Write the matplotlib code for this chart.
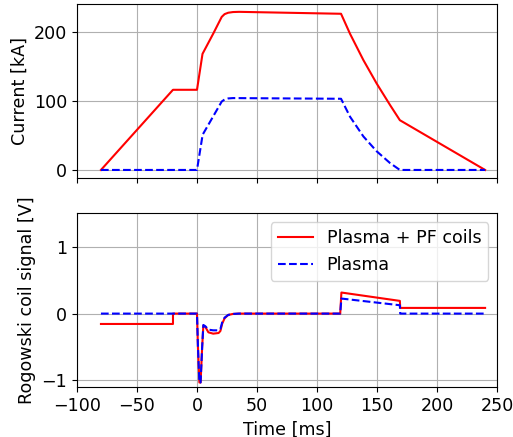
import numpy as np
import matplotlib
matplotlib.use('Agg')
import matplotlib.pyplot as plt

# --- Current traces ---
t_total = [-80, -20, 0, 4.6, 13.6, 20.6, 23, 26, 30, 35, 120, 127.5, 138.6,
           149.7, 160.8, 169, 240]
I_total = [0, 116, 116, 168, 197.5, 221.5, 225.5, 227.5, 228.5, 228.8, 226,
           197, 159, 125, 94, 72, 0]

t_plasma = [-80, 0, 4.7, 20.6, 23, 26, 30, 120, 127.5, 138.6, 149.7, 160.8,
            169, 240]
I_plasma = [0, 0, 51, 99, 102, 103.5, 104, 103, 77, 48.5, 27, 10, 0, 0]

# --- Rogowski coil signals ---
t_sig = [-80, -20, -20, 0, 0.8, 2, 3, 4.3, 5.3, 7, 9.5, 13.5, 18, 19.5, 21,
         23, 26, 30, 35, 119.3, 120.3, 169, 169.3, 240]
V_total = [-0.155, -0.155, 0, 0, -0.5, -1.03, -1.03, -0.5, -0.18, -0.2,
           -0.28, -0.3, -0.29, -0.26, -0.15, -0.07, -0.02, -0.005, 0, 0,
           0.315, 0.19, 0.085, 0.085]
V_plasma = [0, 0, 0, 0, -0.5, -1.03, -1.03, -0.5, -0.17, -0.19, -0.24,
            -0.25, -0.25, -0.23, -0.13, -0.06, -0.02, -0.005, 0, 0, 0.225,
            0.125, 0, 0]

plt.rcParams['font.size'] = 12.6

fig = plt.figure(figsize=(5.13, 4.37), dpi=100)
ax1 = fig.add_axes([0.150, 0.593, 0.819, 0.398])
ax2 = fig.add_axes([0.150, 0.114, 0.819, 0.398], sharex=ax1)

ax1.plot(t_total, I_total, color='red', linewidth=1.5)
ax1.plot(t_plasma, I_plasma, color='blue', linestyle='--', linewidth=1.5)
ax1.set_ylabel('Current [kA]')
ax1.set_yticks([0, 100, 200])
ax1.grid(True)
ax1.tick_params(labelbottom=False)

ax2.plot(t_sig, V_total, color='red', linewidth=1.5, label='Plasma + PF coils')
ax2.plot(t_sig, V_plasma, color='blue', linestyle='--', linewidth=1.5,
         label='Plasma')
ax2.set_ylabel('Rogowski coil signal [V]')
ax2.set_xlabel('Time [ms]')
ax2.set_ylim(-1.1, 1.5)
ax2.set_yticks([-1, 0, 1])
ax2.set_xlim(-100, 250)
ax2.grid(True)
ax2.legend(loc='upper right')

fig.savefig('out.png', dpi=100)
